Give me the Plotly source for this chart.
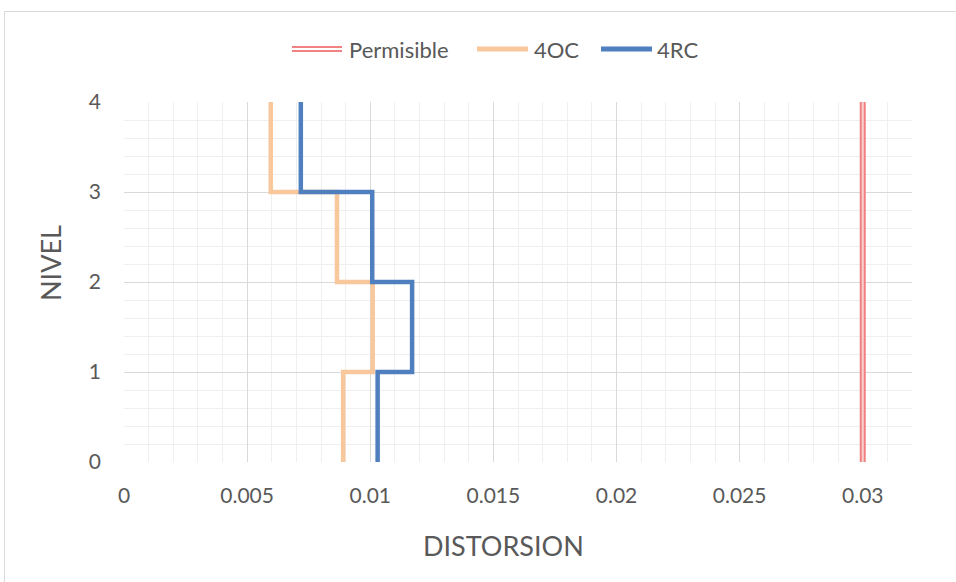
import plotly.graph_objects as go

# Inter-story drift per storey (storey i spans level i-1 to level i)
levels = [0, 1, 2, 3, 4]
drift_4oc = [0.0089, 0.0101, 0.00865, 0.00596]
drift_4rc = [0.0103, 0.0117, 0.01008, 0.00718]
permisible = 0.03

x_ticks = [0, 0.005, 0.01, 0.015, 0.02, 0.025, 0.03]
x_tick_text = ["0", "0.005", "0.01", "0.015", "0.02", "0.025", "0.03"]
y_ticks = [0, 1, 2, 3, 4]

C_PERM = "#F08282"
C_PERM_IN = "#F9D0D0"
C_4OC = "#F8C79C"
C_4RC = "#4F7FBE"
TXT = "#595959"
FONT = "Lato"


def step_path(drifts):
    """Stair-step profile from the top storey down to the base."""
    xs, ys = [], []
    for i in range(len(drifts) - 1, -1, -1):
        xs += [drifts[i], drifts[i]]
        ys += [levels[i + 1], levels[i]]
    return xs, ys


fig = go.Figure()

# Permissible drift limit drawn as a double line
fig.add_trace(go.Scatter(x=[permisible, permisible], y=[levels[0], levels[-1]],
                         mode="lines", line=dict(color=C_PERM, width=6),
                         showlegend=False, hoverinfo="skip"))
fig.add_trace(go.Scatter(x=[permisible, permisible], y=[levels[0], levels[-1]],
                         mode="lines", line=dict(color=C_PERM_IN, width=2),
                         showlegend=False, name="Permisible"))

x4oc, y4oc = step_path(drift_4oc)
fig.add_trace(go.Scatter(x=x4oc, y=y4oc, mode="lines", name="4OC",
                         line=dict(color=C_4OC, width=4.5), showlegend=False))
x4rc, y4rc = step_path(drift_4rc)
fig.add_trace(go.Scatter(x=x4rc, y=y4rc, mode="lines", name="4RC",
                         line=dict(color=C_4RC, width=4.5), showlegend=False))

# plot area in pixels: left 124, right 912, top 102, bottom 462
PL, PR, PT, PB = 124, 912, 102, 462


def px(x):
    return (x - PL) / (PR - PL)


def py(y):
    return (PB - y) / (PB - PT)


shapes = []
annotations = []

# outer chart border
shapes.append(dict(type="rect", xref="paper", yref="paper",
                   x0=px(4.5), x1=px(1000), y0=py(640), y1=py(11.5),
                   line=dict(color="#D9D9D9", width=1), layer="below"))

# legend
leg_y = py(49)
for name, x0, x1, tx, col in [("Permisible", 292, 342, 349, C_PERM),
                              ("4OC", 477, 528, 534, C_4OC),
                              ("4RC", 601, 652, 657, C_4RC)]:
    if name == "Permisible":
        shapes.append(dict(type="line", xref="paper", yref="paper",
                           x0=px(x0), x1=px(x1), y0=leg_y, y1=leg_y,
                           line=dict(color=col, width=6)))
        shapes.append(dict(type="line", xref="paper", yref="paper",
                           x0=px(x0), x1=px(x1), y0=leg_y, y1=leg_y,
                           line=dict(color="white", width=2)))
    else:
        shapes.append(dict(type="line", xref="paper", yref="paper",
                           x0=px(x0), x1=px(x1), y0=leg_y, y1=leg_y,
                           line=dict(color=col, width=5)))
    annotations.append(dict(text=name, xref="paper", yref="paper",
                            x=px(tx - 2), y=leg_y, xanchor="left", yanchor="middle",
                            showarrow=False,
                            font=dict(family=FONT, size=22, color=TXT)))

# axis titles
annotations.append(dict(text="DISTORSION", xref="paper", yref="paper",
                        x=px(503), y=py(545), xanchor="center", yanchor="middle",
                        showarrow=False, font=dict(family=FONT, size=27, color=TXT)))
annotations.append(dict(text="NIVEL", xref="paper", yref="paper",
                        x=px(50), y=py(263), xanchor="center", yanchor="middle",
                        textangle=-90, showarrow=False,
                        font=dict(family=FONT, size=27, color=TXT)))

fig.update_layout(
    width=956, height=582,
    margin=dict(l=PL, r=956 - PR, t=PT, b=582 - PB),
    paper_bgcolor="white", plot_bgcolor="white",
    showlegend=False,
    shapes=shapes, annotations=annotations,
    font=dict(family=FONT, color=TXT),
)
fig.update_xaxes(range=[0, 0.032], tickvals=x_ticks, ticktext=x_tick_text,
                 showgrid=True, gridcolor="#D9D9D9", gridwidth=1.3,
                 minor=dict(dtick=0.001, showgrid=True, gridcolor="#EFEFEF", gridwidth=1.3),
                 zeroline=False, showline=False, ticks="",
                 tickfont=dict(family=FONT, size=21, color=TXT),
                 ticklabelstandoff=19)
fig.update_yaxes(range=[0, 4], tickvals=y_ticks,
                 showgrid=True, gridcolor="#D9D9D9", gridwidth=1.3,
                 minor=dict(dtick=0.2, showgrid=True, gridcolor="#EFEFEF", gridwidth=1.3),
                 zeroline=False, showline=False, ticks="",
                 tickfont=dict(family=FONT, size=21, color=TXT),
                 ticklabelstandoff=22)

fig.write_html("out.html")
